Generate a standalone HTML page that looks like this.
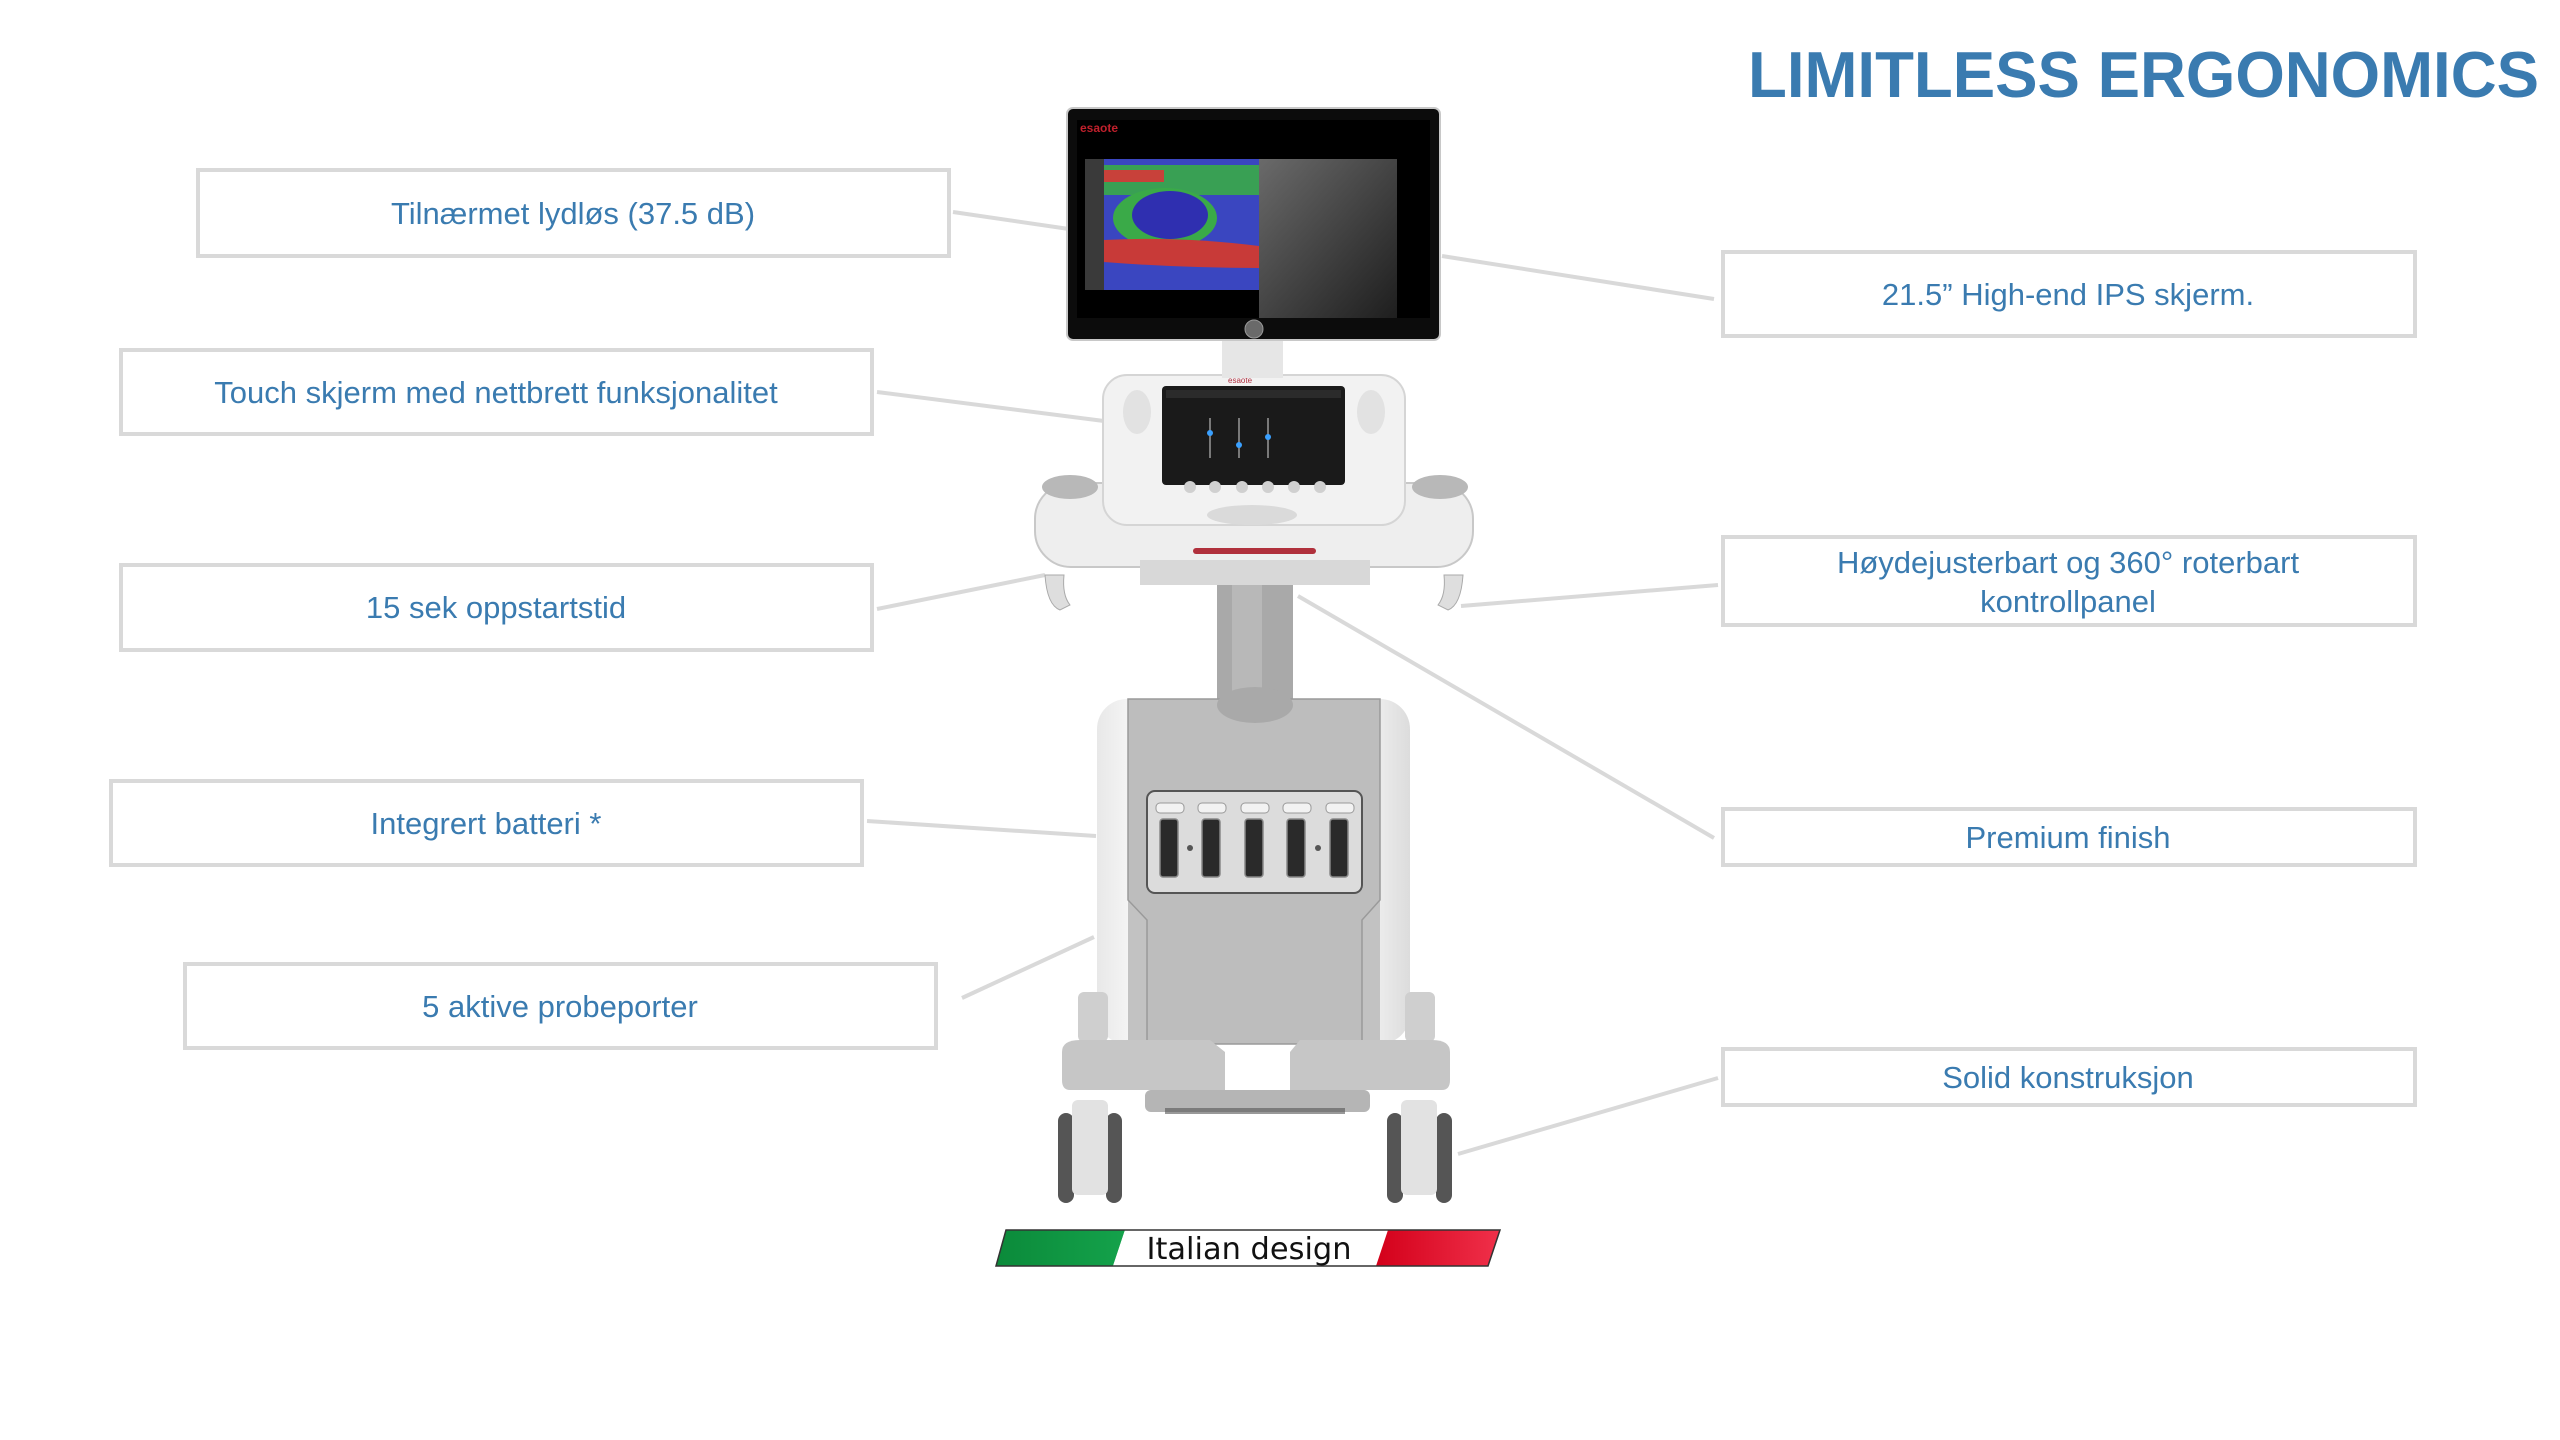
<!DOCTYPE html>
<html><head><meta charset="utf-8"><style>
html,body{margin:0;padding:0;background:#fff;width:2560px;height:1440px;overflow:hidden}
svg{display:block}
</style></head><body>
<svg width="2560" height="1440" viewBox="0 0 2560 1440" xmlns="http://www.w3.org/2000/svg">
<defs>
<linearGradient id="green" x1="0" x2="1"><stop offset="0" stop-color="#0b8a3a"/><stop offset="1" stop-color="#14a24b"/></linearGradient>
<linearGradient id="red" x1="0" x2="1"><stop offset="0" stop-color="#d3001a"/><stop offset="1" stop-color="#f0304a"/></linearGradient>
<linearGradient id="us" x1="0" x2="1" y1="0" y2="1"><stop offset="0" stop-color="#6a6a6a"/><stop offset="1" stop-color="#1e1e1e"/></linearGradient>
<radialGradient id="blob" cx="0.5" cy="0.45" r="0.5"><stop offset="0" stop-color="#2a2aa8"/><stop offset="0.6" stop-color="#3a40c0"/><stop offset="1" stop-color="#33b04a"/></radialGradient>
<linearGradient id="cab" x1="0" x2="1"><stop offset="0" stop-color="#e8e8e8"/><stop offset="0.15" stop-color="#fafafa"/><stop offset="0.85" stop-color="#f4f4f4"/><stop offset="1" stop-color="#dcdcdc"/></linearGradient>
</defs>

<!-- title -->
<text x="1748" y="97" font-family="Liberation Sans, sans-serif" font-weight="bold" font-size="65" fill="#3a7bb0" textLength="791" lengthAdjust="spacingAndGlyphs">LIMITLESS ERGONOMICS</text>

<!-- connectors -->
<g stroke="#d9d9d9" stroke-width="4" fill="none">
<line x1="953" y1="212" x2="1069" y2="229"/>
<line x1="877" y1="392" x2="1104" y2="421"/>
<line x1="877" y1="609" x2="1045" y2="575"/>
<line x1="867" y1="821" x2="1096" y2="836"/>
<line x1="962" y1="998" x2="1094" y2="937"/>
<line x1="1442" y1="256" x2="1714" y2="299"/>
<line x1="1461" y1="606" x2="1718" y2="585"/>
<line x1="1298" y1="596" x2="1714" y2="838"/>
<line x1="1458" y1="1154" x2="1718" y2="1078"/>
</g>

<!-- boxes -->
<g fill="#fff" stroke="#d9d9d9" stroke-width="4">
<rect x="198" y="170" width="751" height="86"/>
<rect x="121" y="350" width="751" height="84"/>
<rect x="121" y="565" width="751" height="85"/>
<rect x="111" y="781" width="751" height="84"/>
<rect x="185" y="964" width="751" height="84"/>
<rect x="1723" y="252" width="692" height="84"/>
<rect x="1723" y="537" width="692" height="88"/>
<rect x="1723" y="809" width="692" height="56"/>
<rect x="1723" y="1049" width="692" height="56"/>
</g>
<g font-family="Liberation Sans, sans-serif" font-size="31" fill="#3a7bb0" text-anchor="middle">
<text x="573" y="224">Tilnærmet lydløs (37.5 dB)</text>
<text x="496" y="403">Touch skjerm med nettbrett funksjonalitet</text>
<text x="496" y="618">15 sek oppstartstid</text>
<text x="486" y="834">Integrert batteri *</text>
<text x="560" y="1017">5 aktive probeporter</text>
<text x="2068" y="305">21.5” High-end IPS skjerm.</text>
<text x="2068" y="573">Høydejusterbart og 360° roterbart</text>
<text x="2068" y="612">kontrollpanel</text>
<text x="2068" y="848">Premium finish</text>
<text x="2068" y="1088">Solid konstruksjon</text>
</g>

<!-- machine: column -->
<rect x="1217" y="560" width="76" height="160" fill="#a9a9a9"/>
<rect x="1232" y="560" width="30" height="160" fill="#b8b8b8"/>
<!-- cabinet -->
<rect x="1097" y="699" width="313" height="345" rx="30" fill="url(#cab)"/>
<path d="M1128 699 H1380 V1044 H1128 Z" fill="#c2c2c2"/>
<path d="M1128 699 H1380 V900 L1362 920 V1044 H1147 V920 L1128 900 Z" fill="#bdbdbd" stroke="#9a9a9a" stroke-width="1.5"/>
<ellipse cx="1255" cy="705" rx="38" ry="18" fill="#a9a9a9"/>
<rect x="1147" y="791" width="215" height="102" rx="8" fill="#dcdcdc" stroke="#555" stroke-width="2"/>
<g fill="#2a2a2a" stroke="#888" stroke-width="1.5">
<rect x="1160" y="819" width="18" height="58" rx="3"/>
<rect x="1202" y="819" width="18" height="58" rx="3"/>
<rect x="1245" y="819" width="18" height="58" rx="3"/>
<rect x="1287" y="819" width="18" height="58" rx="3"/>
<rect x="1330" y="819" width="18" height="58" rx="3"/>
</g>
<g fill="#f2f2f2" stroke="#999">
<rect x="1156" y="803" width="28" height="10" rx="4"/><rect x="1198" y="803" width="28" height="10" rx="4"/><rect x="1241" y="803" width="28" height="10" rx="4"/><rect x="1283" y="803" width="28" height="10" rx="4"/><rect x="1326" y="803" width="28" height="10" rx="4"/>
</g>
<circle cx="1190" cy="848" r="3" fill="#555"/><circle cx="1318" cy="848" r="3" fill="#555"/>
<!-- base -->
<rect x="1078" y="992" width="30" height="50" rx="6" fill="#cfcfcf"/>
<rect x="1405" y="992" width="30" height="50" rx="6" fill="#cfcfcf"/>
<path d="M1062 1052 Q1062 1040 1080 1040 H1210 L1225 1052 V1090 H1070 Q1062 1090 1062 1080 Z" fill="#c6c6c6"/>
<path d="M1450 1052 Q1450 1040 1432 1040 H1300 L1290 1052 V1090 H1442 Q1450 1090 1450 1080 Z" fill="#c6c6c6"/>
<rect x1="0" x="1145" y="1090" width="225" height="22" rx="6" fill="#b5b5b5"/>
<rect x="1165" y="1108" width="180" height="6" fill="#555" opacity="0.6"/>
<!-- wheels -->
<g>
<rect x="1058" y="1113" width="16" height="90" rx="8" fill="#555"/>
<rect x="1106" y="1113" width="16" height="90" rx="8" fill="#555"/>
<rect x="1072" y="1100" width="36" height="95" rx="6" fill="#e2e2e2"/>
<rect x="1387" y="1113" width="16" height="90" rx="8" fill="#555"/>
<rect x="1436" y="1113" width="16" height="90" rx="8" fill="#555"/>
<rect x="1401" y="1100" width="36" height="95" rx="6" fill="#e2e2e2"/>
</g>

<!-- control panel tray -->
<path d="M1045 575 q2 30 15 35 l10 -5 q-8 -10 -6 -30 Z" fill="#dedede" stroke="#aaa"/>
<path d="M1463 575 q-2 30 -15 35 l-10 -5 q8 -10 6 -30 Z" fill="#dedede" stroke="#aaa"/>
<rect x="1035" y="483" width="438" height="84" rx="36" fill="#eeeeee" stroke="#c8c8c8" stroke-width="2"/>
<rect x="1140" y="560" width="230" height="25" fill="#d8d8d8"/>
<rect x="1193" y="548" width="123" height="6" rx="3" fill="#b0303c"/>
<ellipse cx="1070" cy="487" rx="28" ry="12" fill="#b8b8b8"/>
<ellipse cx="1440" cy="487" rx="28" ry="12" fill="#b8b8b8"/>
<!-- panel body -->
<rect x="1103" y="375" width="302" height="150" rx="24" fill="#f2f2f2" stroke="#d5d5d5" stroke-width="2"/>
<ellipse cx="1137" cy="412" rx="14" ry="22" fill="#e2e2e2"/>
<ellipse cx="1371" cy="412" rx="14" ry="22" fill="#e2e2e2"/>
<rect x="1162" y="386" width="183" height="99" rx="4" fill="#1a1a1a"/>
<rect x="1166" y="390" width="175" height="8" fill="#2b2b2b"/>
<g stroke="#999" stroke-width="1.5"><line x1="1210" y1="418" x2="1210" y2="458"/><line x1="1239" y1="418" x2="1239" y2="458"/><line x1="1268" y1="418" x2="1268" y2="458"/></g>
<circle cx="1210" cy="433" r="3" fill="#3aa0ff"/><circle cx="1239" cy="445" r="3" fill="#3aa0ff"/><circle cx="1268" cy="437" r="3" fill="#3aa0ff"/>
<g fill="#d0d0d0"><circle cx="1190" cy="487" r="6"/><circle cx="1215" cy="487" r="6"/><circle cx="1242" cy="487" r="6"/><circle cx="1268" cy="487" r="6"/><circle cx="1294" cy="487" r="6"/><circle cx="1320" cy="487" r="6"/></g>
<ellipse cx="1252" cy="515" rx="45" ry="10" fill="#dadada"/>
<text x="1228" y="383" font-family="Liberation Sans, sans-serif" font-size="8" fill="#b03040">esaote</text>

<!-- monitor neck -->
<rect x="1222" y="338" width="61" height="40" fill="#e6e6e6"/>
<!-- monitor -->
<rect x="1067" y="108" width="373" height="232" rx="6" fill="#0c0c0c" stroke="#c8c8c8" stroke-width="2"/>
<rect x="1077" y="120" width="353" height="198" fill="#000"/>
<rect x="1259" y="159" width="138" height="159" fill="url(#us)"/>
<rect x="1085" y="159" width="19" height="131" fill="#3a3a3a"/>
<rect x="1104" y="159" width="155" height="131" fill="#3a46c0"/>
<rect x="1104" y="165" width="155" height="30" fill="#3aaa48" opacity="0.9"/>
<rect x="1104" y="170" width="60" height="12" fill="#c8413a"/>
<ellipse cx="1165" cy="218" rx="52" ry="30" fill="#3aaa48"/>
<ellipse cx="1170" cy="215" rx="38" ry="24" fill="#2f2fb0"/>
<path d="M1104 240 Q1180 236 1259 246 V268 Q1180 268 1104 262 Z" fill="#c83a38"/>
<rect x="1104" y="268" width="155" height="22" fill="#3a46c0"/>
<text x="1080" y="132" font-family="Liberation Sans, sans-serif" font-weight="bold" font-size="12" fill="#c0202c">esaote</text>
<circle cx="1254" cy="329" r="9" fill="#6a6a6a" stroke="#999"/>

<!-- Italian design banner -->
<polygon points="1006,1230 1125,1230 1113,1266 996,1266" fill="url(#green)"/>
<polygon points="1125,1230 1388,1230 1376,1266 1113,1266" fill="#fff"/>
<polygon points="1388,1230 1500,1230 1488,1266 1376,1266" fill="url(#red)"/>
<polygon points="1006,1230 1500,1230 1488,1266 996,1266" fill="none" stroke="#333" stroke-width="1.5"/>
<text x="1249" y="1259" text-anchor="middle" font-family="DejaVu Sans, sans-serif" font-size="30" fill="#111" textLength="205" lengthAdjust="spacingAndGlyphs">Italian design</text>
</svg>
</body></html>
